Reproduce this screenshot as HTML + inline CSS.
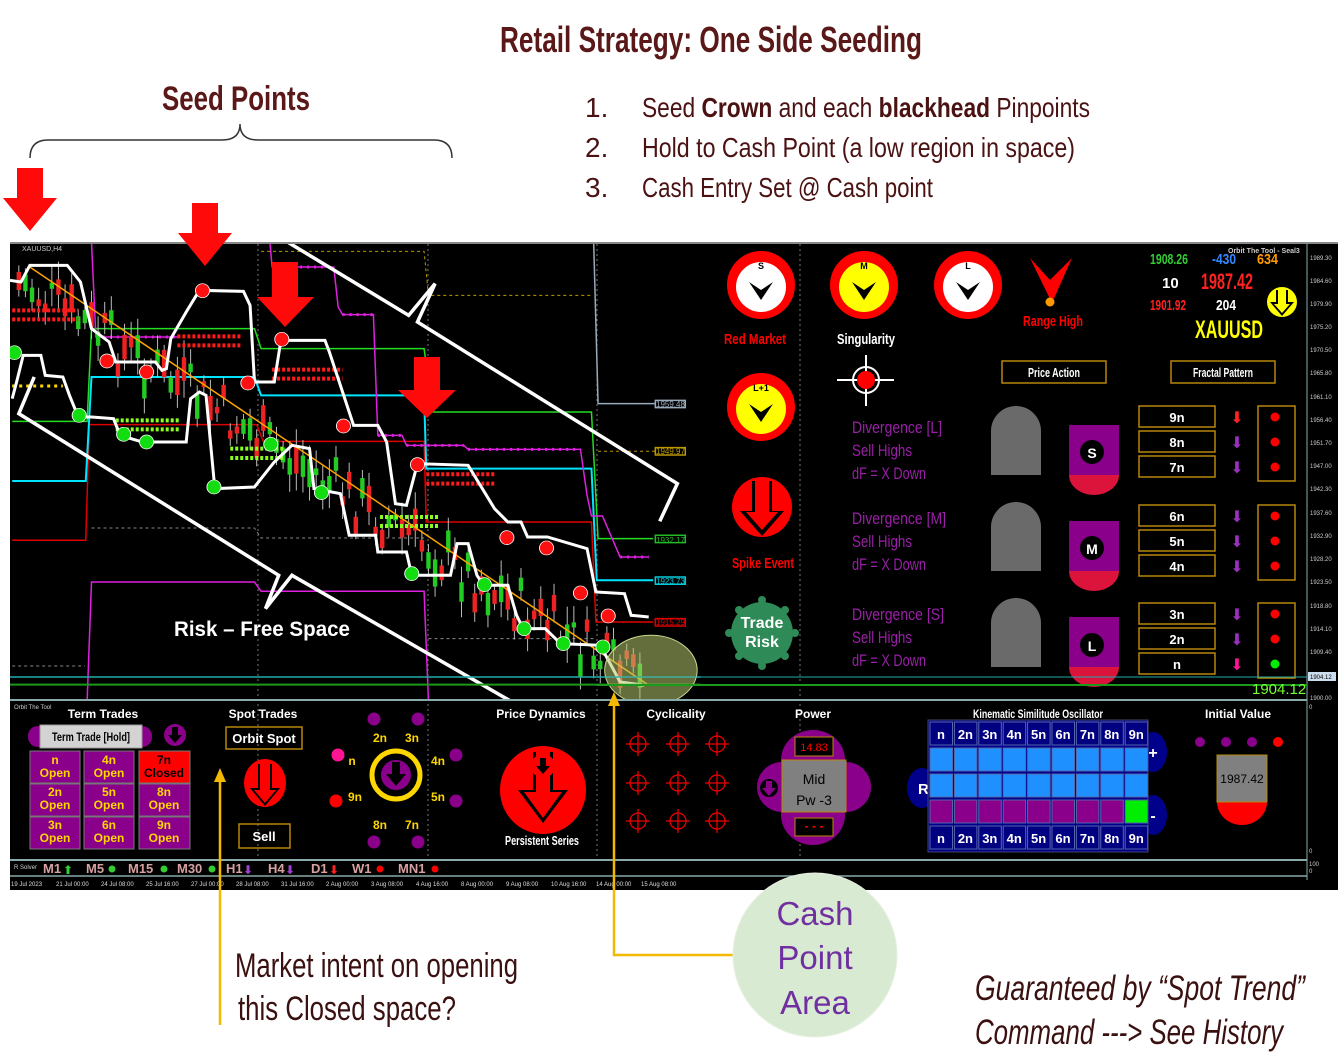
<!DOCTYPE html>
<html><head><meta charset="utf-8"><style>
html,body{margin:0;padding:0;background:#fff;width:1340px;height:1062px;overflow:hidden}
svg{display:block}
text{font-family:"Liberation Sans Narrow","Liberation Sans",sans-serif}
.n{vector-effect:non-scaling-stroke;fill:none}
.ar{font-family:"DejaVu Sans",sans-serif}
</style></head><body>
<svg width="1340" height="1062" viewBox="0 0 1340 1062" xmlns="http://www.w3.org/2000/svg">
<defs><clipPath id="cc"><rect x="10" y="244" width="1297" height="456"/></clipPath></defs>
<!-- Headings -->
<text x="500" y="52" font-size="36" font-weight="bold" fill="#5a1818" textLength="422" lengthAdjust="spacingAndGlyphs">Retail Strategy: One Side Seeding</text>
<text x="162" y="110" font-size="34" font-weight="bold" fill="#5a1818" textLength="148" lengthAdjust="spacingAndGlyphs">Seed Points</text>
<path d="M30 158 Q30 140 48 140 L222 140 Q240 140 240 124 Q240 140 258 140 L434 140 Q452 140 452 158" stroke="#333" stroke-width="1.5" fill="none"/>
<g fill="#4a1212" font-size="28">
<text x="585" y="117">1.</text><text x="585" y="157">2.</text><text x="585" y="197">3.</text>
<text x="642" y="117" textLength="448" lengthAdjust="spacingAndGlyphs">Seed <tspan font-weight="bold">Crown</tspan> and each <tspan font-weight="bold">blackhead</tspan> Pinpoints</text>
<text x="642" y="157" textLength="433" lengthAdjust="spacingAndGlyphs">Hold to Cash Point (a low region in space)</text>
<text x="642" y="197" textLength="291" lengthAdjust="spacingAndGlyphs">Cash Entry Set @ Cash point</text>
</g>
<!-- Chart background -->
<rect x="10" y="242" width="1328" height="648" fill="#000"/>
<line x1="10" y1="243" x2="1338" y2="243" stroke="#888" stroke-width="2"/>
<line x1="1307" y1="243" x2="1307" y2="880" stroke="#8aa" stroke-width="1"/>
<g stroke="#777" stroke-dasharray="2,3" stroke-width="1">
<line x1="258" y1="244" x2="258" y2="860"/><line x1="428" y1="244" x2="428" y2="860"/><line x1="597" y1="244" x2="597" y2="860"/><line x1="800" y1="244" x2="800" y2="860"/>
</g>
<!-- main chart in zoom coords -->
<g clip-path="url(#cc)">
<g id="cg" transform="translate(10,242) scale(0.4405,0.3333)">
<polyline class="n" stroke="#d00" stroke-width="1.5" points="5,895 172,895 180,548 560,548 575,598 940,598 945,840 1320,840 1330,1140 1460,1140"/>
<polyline class="n" stroke="#00e5ff" stroke-width="2" points="5,717 172,717 185,405 555,405 570,460 940,460 945,680 1320,680 1332,1015 1460,1015"/>
<polyline class="n" stroke="#22dd22" stroke-width="1.5" points="5,538 175,538 185,260 555,260 570,320 940,320 960,510 1320,510 1335,890 1460,890"/>
<polyline class="n" stroke="#e020e0" stroke-width="1.5" points="590,0 595,75 735,75 745,195 755,218 825,218 835,580 890,580 900,610 1030,610 1040,622 1295,622 1310,760 1320,822 1345,822 1385,945 1450,945"/>
<polyline class="n" stroke="#e020e0" stroke-width="3" stroke-dasharray="2,5" points="595,75 735,75"/>
<polyline class="n" stroke="#e020e0" stroke-width="3" stroke-dasharray="2,5" points="755,218 825,218"/>
<polyline class="n" stroke="#e020e0" stroke-width="3" stroke-dasharray="2,5" points="835,580 890,580"/>
<polyline class="n" stroke="#e020e0" stroke-width="3" stroke-dasharray="2,5" points="900,610 1030,610"/>
<polyline class="n" stroke="#e020e0" stroke-width="3" stroke-dasharray="2,5" points="1040,622 1295,622"/>
<polyline class="n" stroke="#e020e0" stroke-width="3" stroke-dasharray="2,5" points="1385,945 1450,945"/>
<polyline class="n" stroke="#e020e0" stroke-width="1.5" points="185,0 195,285 380,285"/>
<polyline class="n" stroke="#e020e0" stroke-width="3" stroke-dasharray="2,5" points="195,285 380,285"/>
<polyline class="n" stroke="#e020e0" stroke-width="1.5" points="175,1380 185,1020 555,1020 570,1048 940,1048 950,1380"/>
<polyline class="n" stroke="#9ab" stroke-width="1.5" points="1325,0 1335,485 1465,485"/>
<polyline class="n" stroke="#bb9900" stroke-width="1" stroke-dasharray="3,3" points="570,28 940,28 950,160 1320,160"/>
<polyline class="n" stroke="#bb9900" stroke-width="1" stroke-dasharray="3,3" points="1335,628 1465,628"/>
<polyline class="n" stroke="#888" stroke-width="1" stroke-dasharray="3,3" points="185,858 555,858 570,888 940,888"/>
<polyline class="n" stroke="#888" stroke-width="1" stroke-dasharray="3,3" points="950,1190 1330,1190"/>
<polyline class="n" stroke="#888" stroke-width="1" stroke-dasharray="3,3" points="5,1272 170,1272"/>
<polyline class="n" stroke="#ffd700" stroke-width="3" stroke-dasharray="3,4" points="5,432 120,432"/>
<g id="candles"></g>
<polyline class="n" stroke="#ff1a1a" stroke-width="4" stroke-dasharray="3,2" points="5,205 155,205"/>
<polyline class="n" stroke="#ff1a1a" stroke-width="4" stroke-dasharray="3,2" points="5,232 155,232"/>
<polyline class="n" stroke="#ff1a1a" stroke-width="4" stroke-dasharray="3,2" points="380,283 525,283"/>
<polyline class="n" stroke="#ff1a1a" stroke-width="4" stroke-dasharray="3,2" points="380,310 525,310"/>
<polyline class="n" stroke="#ff1a1a" stroke-width="4" stroke-dasharray="3,2" points="595,383 755,383"/>
<polyline class="n" stroke="#ff1a1a" stroke-width="4" stroke-dasharray="3,2" points="595,410 755,410"/>
<polyline class="n" stroke="#ff1a1a" stroke-width="4" stroke-dasharray="3,2" points="945,697 1100,697"/>
<polyline class="n" stroke="#ff1a1a" stroke-width="4" stroke-dasharray="3,2" points="945,725 1100,725"/>
<polyline class="n" stroke="#88ff22" stroke-width="4" stroke-dasharray="3,2" points="240,535 385,535"/>
<polyline class="n" stroke="#88ff22" stroke-width="4" stroke-dasharray="3,2" points="240,562 385,562"/>
<polyline class="n" stroke="#88ff22" stroke-width="4" stroke-dasharray="3,2" points="500,620 625,620"/>
<polyline class="n" stroke="#88ff22" stroke-width="4" stroke-dasharray="3,2" points="500,648 625,648"/>
<polyline class="n" stroke="#88ff22" stroke-width="4" stroke-dasharray="3,2" points="840,825 975,825"/>
<polyline class="n" stroke="#88ff22" stroke-width="4" stroke-dasharray="3,2" points="840,852 975,852"/>
<polyline class="n" stroke="#ffa500" stroke-width="1.5" points="45,75 1450,1330"/>
<polyline class="n" stroke="#fff" stroke-width="3" points="0,115 25,120 45,70 130,70 160,120 185,260 225,300 240,360 330,360 345,385 355,380 365,290 400,210 430,145 530,148 545,190 555,420 600,420 615,295 715,295 725,330 780,550 835,550 855,600 875,785 900,790 925,665 1040,670 1100,800 1130,840 1160,840 1175,885 1220,885 1310,920 1330,1050 1395,1055 1410,1120 1450,1125"/>
<polyline class="n" stroke="#fff" stroke-width="3" points="5,470 15,420 30,340 70,340 80,400 120,405 135,460 155,525 185,525 235,530 250,580 300,600 400,600 410,470 430,450 445,460 465,740 555,735 600,660 640,610 680,620 690,740 750,755 770,880 830,880 835,930 900,930 912,1000 1000,1000 1015,905 1040,905 1060,1000 1075,1030 1130,1030 1150,1120 1165,1160 1215,1160 1250,1205 1340,1210 1385,1320 1440,1330"/>
<polyline class="n" stroke="#fff" stroke-width="3.5" points="630,0 905,220 965,125 925,240 1515,725 1475,838"/>
<polyline class="n" stroke="#fff" stroke-width="3.5" points="55,405 20,515 610,1000 580,1100 640,1000 1140,1380"/>
<polyline class="n" stroke="#2aa" stroke-width="1.5" points="0,1305 1568,1305"/>
<polyline class="n" stroke="#1a9a1a" stroke-width="2" points="0,1328 1568,1328"/>
<g stroke="#fff" stroke-width="2" vector-effect="non-scaling-stroke">
<g fill="#ff1010"><ellipse cx="220" cy="357" rx="16" ry="21"/><ellipse cx="310" cy="390" rx="16" ry="21"/><ellipse cx="540" cy="423" rx="16" ry="21"/><ellipse cx="757" cy="552" rx="16" ry="21"/><ellipse cx="1128" cy="887" rx="16" ry="21"/><ellipse cx="1218" cy="918" rx="16" ry="21"/><ellipse cx="1295" cy="1053" rx="16" ry="21"/><ellipse cx="1358" cy="1122" rx="16" ry="21"/>
<ellipse cx="437" cy="146" rx="16" ry="21"/><ellipse cx="617" cy="292" rx="16" ry="21"/><ellipse cx="925" cy="668" rx="16" ry="21"/></g>
<g fill="#11dd11"><ellipse cx="10" cy="332" rx="16" ry="21"/><ellipse cx="157" cy="520" rx="16" ry="21"/><ellipse cx="258" cy="577" rx="16" ry="21"/><ellipse cx="310" cy="600" rx="16" ry="21"/><ellipse cx="463" cy="735" rx="16" ry="21"/><ellipse cx="592" cy="607" rx="16" ry="21"/><ellipse cx="707" cy="752" rx="16" ry="21"/><ellipse cx="912" cy="995" rx="16" ry="21"/><ellipse cx="1077" cy="1028" rx="16" ry="21"/><ellipse cx="1167" cy="1160" rx="16" ry="21"/><ellipse cx="1256" cy="1205" rx="16" ry="21"/><ellipse cx="1346" cy="1215" rx="16" ry="21"/></g>
</g>
<ellipse cx="1455" cy="1285" rx="105" ry="105" style="fill:rgba(180,200,110,0.55);stroke:#c8d890;stroke-width:1" vector-effect="non-scaling-stroke"/>
<g fill="#000" stroke-width="1.5" vector-effect="non-scaling-stroke">
<rect x="1465" y="475" width="68" height="22" stroke="#9ab" vector-effect="non-scaling-stroke"/>
<rect x="1465" y="617" width="68" height="22" stroke="#bb9900" vector-effect="non-scaling-stroke"/>
<rect x="1465" y="880" width="68" height="22" stroke="#22bb22" vector-effect="non-scaling-stroke"/>
<rect x="1465" y="1005" width="68" height="22" stroke="#00ccdd" vector-effect="non-scaling-stroke"/>
<rect x="1465" y="1130" width="68" height="22" stroke="#d00" vector-effect="non-scaling-stroke"/>
</g>
</g>
</g>
<g font-size="8" font-family="Liberation Sans,sans-serif">
<text x="656" y="407" fill="#9ab">1959.48</text>
<text x="656" y="454" fill="#bb9900">1949.97</text>
<text x="656" y="543" fill="#22bb22">1932.17</text>
<text x="656" y="584" fill="#00ccdd">1923.73</text>
<text x="656" y="625" fill="#d00">1915.29</text>
<text x="22" y="251" fill="#ccc" font-size="7">XAUUSD,H4</text>
</g>
<!-- Red arrows -->
<g fill="#ff0a0a">
<path d="M17 168h26v30h14l-27 33-27-33h14z"/>
<path d="M192 203h26v30h14l-27 33-27-33h14z"/>
<path d="M272 262h26v35h16l-29 30-28-30h15z"/>
<path d="M414 357h26v33h16l-29 28-29-28h16z"/>
</g>
<text x="174" y="636" font-size="21" font-weight="bold" fill="#fff" font-family="Liberation Sans,sans-serif" textLength="176" lengthAdjust="spacingAndGlyphs">Risk – Free Space</text>
<!-- right panel -->
<g>
<circle cx="761" cy="285" r="34" fill="#f00"/><circle cx="761" cy="287" r="25" fill="#fff"/>
<circle cx="864" cy="285" r="34" fill="#f00"/><circle cx="864" cy="287" r="25" fill="#ff0"/>
<circle cx="968" cy="285" r="34" fill="#f00"/><circle cx="968" cy="287" r="25" fill="#fff"/>
<circle cx="761" cy="407" r="34" fill="#f00"/><circle cx="761" cy="409" r="25" fill="#ff0"/>
<g fill="#000"><path d="M749 282l12 8 12-8-12 18z"/><path d="M852 282l12 8 12-8-12 18z"/><path d="M956 282l12 8 12-8-12 18z"/><path d="M749 404l12 8 12-8-12 18z"/></g>
<g font-size="9" fill="#000" text-anchor="middle" font-weight="bold"><text x="761" y="269">S</text><text x="864" y="269">M</text><text x="968" y="269">L</text><text x="761" y="391">L+1</text></g>
<path d="M1030 258l20 22 22-22-20 45z" fill="#f00"/><circle cx="1050" cy="302" r="4.5" fill="#f90"/>
<g font-size="15" font-weight="bold" text-anchor="middle">
<text x="755" y="344" fill="#f00" textLength="62" lengthAdjust="spacingAndGlyphs">Red Market</text>
<text x="866" y="344" fill="#fff" textLength="58" lengthAdjust="spacingAndGlyphs">Singularity</text>
<text x="1053" y="326" fill="#f00" textLength="60" lengthAdjust="spacingAndGlyphs">Range High</text>
<text x="763" y="568" fill="#f00" textLength="62" lengthAdjust="spacingAndGlyphs">Spike Event</text>
</g>
<g stroke="#fff" stroke-width="2" fill="none"><line x1="866" y1="355" x2="866" y2="406"/><line x1="837" y1="380" x2="894" y2="380"/><circle cx="866" cy="380" r="13"/></g>
<circle cx="866" cy="380" r="9" fill="#f00"/>
<circle cx="762" cy="507" r="30" fill="#f00"/><path d="M752 481h20v30h12l-22 25-22-25h12z" fill="#000"/><path d="M755 480h14v32h9l-16 18-16-18h9z" fill="#f00"/>
<g fill="#2e8b57"><circle cx="762" cy="633" r="31"/><circle cx="762" cy="600" r="4"/><circle cx="762" cy="666" r="4"/><circle cx="729" cy="633" r="4"/><circle cx="795" cy="633" r="4"/><circle cx="739" cy="610" r="4"/><circle cx="785" cy="610" r="4"/><circle cx="739" cy="656" r="4"/><circle cx="785" cy="656" r="4"/></g>
<g font-size="16" font-weight="bold" fill="#fff" text-anchor="middle"><text x="762" y="628">Trade</text><text x="762" y="647">Risk</text></g>
<g font-size="17" fill="#9b1fa8">
<text x="852" y="433" textLength="90" lengthAdjust="spacingAndGlyphs">Divergence [L]</text><text x="852" y="456" textLength="60" lengthAdjust="spacingAndGlyphs">Sell Highs</text><text x="852" y="479" textLength="74" lengthAdjust="spacingAndGlyphs">dF = X Down</text>
<text x="852" y="524" textLength="94" lengthAdjust="spacingAndGlyphs">Divergence [M]</text><text x="852" y="547" textLength="60" lengthAdjust="spacingAndGlyphs">Sell Highs</text><text x="852" y="570" textLength="74" lengthAdjust="spacingAndGlyphs">dF = X Down</text>
<text x="852" y="620" textLength="92" lengthAdjust="spacingAndGlyphs">Divergence [S]</text><text x="852" y="643" textLength="60" lengthAdjust="spacingAndGlyphs">Sell Highs</text><text x="852" y="666" textLength="74" lengthAdjust="spacingAndGlyphs">dF = X Down</text>
</g>
<g fill="#6a6a6a"><path d="M991 475v-44a25 25 0 0 1 50 0v44z"/><path d="M991 571v-44a25 25 0 0 1 50 0v44z"/><path d="M991 667v-44a25 25 0 0 1 50 0v44z"/></g>
<g fill="#dc143c"><path d="M1069 475a25 20 0 0 0 50 0z"/><path d="M1069 571a25 20 0 0 0 50 0z"/><path d="M1069 667a25 20 0 0 0 50 0z"/></g>
<g fill="#8b008b"><rect x="1069" y="425" width="50" height="50"/><rect x="1069" y="521" width="50" height="50"/><rect x="1069" y="617" width="50" height="50"/></g>
<g fill="#000"><circle cx="1092" cy="452" r="12"/><circle cx="1092" cy="548" r="12"/><circle cx="1092" cy="645" r="12"/></g>
<g fill="#fff" font-size="14" font-weight="bold" text-anchor="middle"><text x="1092" y="458">S</text><text x="1092" y="554">M</text><text x="1092" y="651">L</text></g>
<g fill="none" stroke="#b8860b" stroke-width="1.5">
<rect x="1002" y="361" width="104" height="22"/><rect x="1171" y="361" width="104" height="22"/>
<rect x="1139" y="406" width="76" height="21"/><rect x="1139" y="431" width="76" height="21"/><rect x="1139" y="456" width="76" height="21"/>
<rect x="1139" y="505" width="76" height="21"/><rect x="1139" y="530" width="76" height="21"/><rect x="1139" y="555" width="76" height="21"/>
<rect x="1139" y="603" width="76" height="21"/><rect x="1139" y="628" width="76" height="21"/><rect x="1139" y="653" width="76" height="21"/>
<rect x="1258" y="406" width="37" height="75"/><rect x="1258" y="505" width="37" height="75"/><rect x="1258" y="603" width="37" height="75"/>
</g>
<g fill="#fff" font-size="13" font-weight="bold" text-anchor="middle">
<text x="1054" y="377" textLength="52" lengthAdjust="spacingAndGlyphs">Price Action</text><text x="1223" y="377" textLength="60" lengthAdjust="spacingAndGlyphs">Fractal Pattern</text>
<text x="1177" y="422">9n</text><text x="1177" y="447">8n</text><text x="1177" y="472">7n</text>
<text x="1177" y="521">6n</text><text x="1177" y="546">5n</text><text x="1177" y="571">4n</text>
<text x="1177" y="619">3n</text><text x="1177" y="644">2n</text><text x="1177" y="669">n</text>
</g>
<g font-size="16" text-anchor="middle" class="ar">
<text x="1237" y="423" fill="#f22">⬇</text><text x="1237" y="448" fill="#9b30c0">⬇</text><text x="1237" y="473" fill="#9b30c0">⬇</text>
<text x="1237" y="522" fill="#9b30c0">⬇</text><text x="1237" y="547" fill="#9b30c0">⬇</text><text x="1237" y="572" fill="#9b30c0">⬇</text>
<text x="1237" y="620" fill="#9b30c0">⬇</text><text x="1237" y="645" fill="#9b30c0">⬇</text><text x="1237" y="670" fill="#ff1493">⬇</text>
</g>
<g fill="#f00"><circle cx="1275" cy="417" r="4.5"/><circle cx="1275" cy="442" r="4.5"/><circle cx="1275" cy="467" r="4.5"/><circle cx="1275" cy="516" r="4.5"/><circle cx="1275" cy="541" r="4.5"/><circle cx="1275" cy="566" r="4.5"/><circle cx="1275" cy="614" r="4.5"/><circle cx="1275" cy="639" r="4.5"/></g>
<circle cx="1275" cy="664" r="4.5" fill="#0e0"/>
<g font-weight="bold">
<text x="1150" y="264" font-size="15" fill="#3c3" textLength="38" lengthAdjust="spacingAndGlyphs">1908.26</text>
<text x="1212" y="264" font-size="15" fill="#38f" textLength="24" lengthAdjust="spacingAndGlyphs">-430</text>
<text x="1257" y="264" font-size="15" fill="#f90" textLength="21" lengthAdjust="spacingAndGlyphs">634</text>
<text x="1162" y="288" font-size="15" fill="#fff">10</text>
<text x="1201" y="289" font-size="22" fill="#f22" textLength="52" lengthAdjust="spacingAndGlyphs">1987.42</text>
<text x="1150" y="310" font-size="15" fill="#f22" textLength="36" lengthAdjust="spacingAndGlyphs">1901.92</text>
<text x="1216" y="310" font-size="15" fill="#fff" textLength="20" lengthAdjust="spacingAndGlyphs">204</text>
<text x="1195" y="338" font-size="25" fill="#ff0" textLength="68" lengthAdjust="spacingAndGlyphs">XAUUSD</text>
<text x="1228" y="253" font-size="7" fill="#ccc">Orbit The Tool - Seal3</text>
</g>
<circle cx="1282" cy="302" r="15" fill="#ff0"/><path d="M1276 290h12v12h6l-12 14-12-14h6z" fill="#000"/><path d="M1278 290h8v14h4l-8 9-8-9h4z" fill="#ff0"/>
<g font-size="6" fill="#ccc" font-family="Liberation Sans,sans-serif">
<text x="1310" y="260">1989.30</text><text x="1310" y="283">1984.60</text><text x="1310" y="306">1979.90</text><text x="1310" y="329">1975.20</text><text x="1310" y="352">1970.50</text><text x="1310" y="375">1965.80</text><text x="1310" y="399">1961.10</text><text x="1310" y="422">1956.40</text><text x="1310" y="445">1951.70</text><text x="1310" y="468">1947.00</text><text x="1310" y="491">1942.30</text><text x="1310" y="515">1937.60</text><text x="1310" y="538">1932.90</text><text x="1310" y="561">1928.20</text><text x="1310" y="584">1923.50</text><text x="1310" y="608">1918.80</text><text x="1310" y="631">1914.10</text><text x="1310" y="654">1909.40</text><text x="1310" y="700">1900.00</text>
</g>
<rect x="1308" y="672" width="28" height="9" fill="#cde"/><text x="1310" y="679" font-size="6" fill="#000">1904.12</text>
<line x1="597" y1="677" x2="1307" y2="677" stroke="#2aa" stroke-width="1"/>
<line x1="597" y1="685" x2="1307" y2="685" stroke="#1a9a1a" stroke-width="2"/>
<text x="1252" y="694" font-size="15" fill="#7f3" font-family="Liberation Sans,sans-serif">1904.12</text>
</g>
<!-- separators -->
<line x1="10" y1="700" x2="1307" y2="700" stroke="#8aa" stroke-width="2"/>
<line x1="10" y1="860" x2="1307" y2="860" stroke="#8aa" stroke-width="2"/>
<line x1="10" y1="876" x2="1307" y2="876" stroke="#8aa" stroke-width="1.5"/>
<!-- bottom panel -->
<g font-size="12" font-weight="bold" fill="#fff" text-anchor="middle">
<text x="103" y="718">Term Trades</text><text x="263" y="718">Spot Trades</text><text x="541" y="718">Price Dynamics</text><text x="676" y="718">Cyclicality</text><text x="813" y="718">Power</text><text x="1038" y="718" textLength="130" lengthAdjust="spacingAndGlyphs">Kinematic Similitude Oscillator</text><text x="1238" y="718">Initial Value</text>
</g>
<text x="14" y="709" font-size="6" fill="#ccc">Orbit The Tool</text>
<rect x="28" y="726" width="124" height="21" rx="10" fill="#8b008b"/>
<rect x="40" y="725" width="102" height="23" fill="#d3d3d3" stroke="#999"/>
<text x="91" y="741" font-size="12" font-weight="bold" text-anchor="middle" fill="#000" textLength="78" lengthAdjust="spacingAndGlyphs">Term Trade [Hold]</text>
<circle cx="175" cy="735" r="11" fill="#8b008b"/><path d="M172 727h6v8h4l-7 8-7-8h4z" fill="#000"/>
<g stroke="#777" stroke-width="1" fill="#8b008b">
<rect x="30" y="751" width="50" height="32"/><rect x="84" y="751" width="50" height="32"/><rect x="139" y="751" width="51" height="32" fill="#f00"/>
<rect x="30" y="784" width="50" height="32"/><rect x="84" y="784" width="50" height="32"/><rect x="139" y="784" width="51" height="32"/>
<rect x="30" y="817" width="50" height="32"/><rect x="84" y="817" width="50" height="32"/><rect x="139" y="817" width="51" height="32"/>
</g>
<g font-size="12" fill="#ffd700" text-anchor="middle" font-weight="bold">
<text x="55" y="764">n</text><text x="55" y="777">Open</text><text x="109" y="764">4n</text><text x="109" y="777">Open</text><text x="164" y="764" fill="#000">7n</text><text x="164" y="777" fill="#000">Closed</text>
<text x="55" y="796">2n</text><text x="55" y="809">Open</text><text x="109" y="796">5n</text><text x="109" y="809">Open</text><text x="164" y="796">8n</text><text x="164" y="809">Open</text>
<text x="55" y="829">3n</text><text x="55" y="842">Open</text><text x="109" y="829">6n</text><text x="109" y="842">Open</text><text x="164" y="829">9n</text><text x="164" y="842">Open</text>
</g>
<rect x="226" y="727" width="76" height="22" fill="none" stroke="#b8860b" stroke-width="1.5"/>
<text x="264" y="743" font-size="13" font-weight="bold" fill="#fff" text-anchor="middle">Orbit Spot</text>
<ellipse cx="265" cy="783" rx="21" ry="24" fill="#f00"/><path d="M258 764h14v24h8l-15 18-15-18h8z" fill="#000"/><path d="M260 764h10v26h6l-11 13-11-13h6z" fill="#f00"/>
<rect x="239" y="824" width="51" height="24" fill="none" stroke="#b8860b" stroke-width="1.5"/>
<text x="264" y="841" font-size="13" font-weight="bold" fill="#fff" text-anchor="middle">Sell</text>
<circle cx="396" cy="775" r="24" fill="none" stroke="#ffd700" stroke-width="5"/>
<circle cx="396" cy="775" r="15" fill="#8b008b"/><path d="M392 762h8v12h6l-10 12-10-12h6z" fill="#000"/>
<g fill="#8b008b"><circle cx="374" cy="719" r="6.5"/><circle cx="418" cy="719" r="6.5"/><circle cx="456" cy="755" r="6.5"/><circle cx="456" cy="801" r="6.5"/><circle cx="374" cy="842" r="6.5"/><circle cx="418" cy="842" r="6.5"/></g>
<circle cx="338" cy="755" r="6.5" fill="#ff1493"/><circle cx="336" cy="801" r="6.5" fill="#f00"/>
<g font-size="12" font-weight="bold" fill="#ffd700" text-anchor="middle">
<text x="380" y="742">2n</text><text x="412" y="742">3n</text><text x="352" y="765">n</text><text x="438" y="765">4n</text><text x="355" y="801">9n</text><text x="438" y="801">5n</text><text x="380" y="829">8n</text><text x="412" y="829">7n</text>
</g>
<ellipse cx="543" cy="790" rx="43" ry="44" fill="#f00"/><path d="M533 752h20v38h15l-25 33-25-33h15z" fill="#000"/><path d="M536 752h14v40h12l-19 26-19-26h12z" fill="#f00"/>
<circle cx="543" cy="766" r="12" fill="#f00"/><path d="M540 758h6v8h4l-7 8-7-8h4z" fill="#000"/>
<text x="542" y="845" font-size="13" font-weight="bold" fill="#fff" text-anchor="middle" textLength="74" lengthAdjust="spacingAndGlyphs">Persistent Series</text>
<g stroke="#e00" stroke-width="1.3" fill="none">
<g id="ch"><circle cx="638" cy="744" r="8"/><line x1="626" y1="744" x2="650" y2="744"/><line x1="638" y1="732" x2="638" y2="756"/></g>
<use href="#ch" x="40"/><use href="#ch" x="79"/><use href="#ch" y="39"/><use href="#ch" x="40" y="39"/><use href="#ch" x="79" y="39"/><use href="#ch" y="77"/><use href="#ch" x="40" y="77"/><use href="#ch" x="79" y="77"/>
</g>
<!-- power -->
<g fill="#8b008b"><ellipse cx="813" cy="760" rx="32" ry="30"/><ellipse cx="813" cy="815" rx="32" ry="30"/><ellipse cx="782" cy="787" rx="25" ry="25"/><ellipse cx="846" cy="787" rx="25" ry="25"/></g>
<rect x="782" y="760" width="64" height="52" fill="#808080" stroke="#b8860b"/>
<g font-size="14" fill="#000" text-anchor="middle"><text x="814" y="784">Mid</text><text x="814" y="805">Pw -3</text></g>
<rect x="795" y="737" width="38" height="19" fill="#000" stroke="#b8860b"/><text x="814" y="751" font-size="11" fill="#f00" text-anchor="middle">14.83</text>
<rect x="795" y="818" width="38" height="18" fill="#000" stroke="#b8860b"/><text x="814" y="830" font-size="12" fill="#f00" text-anchor="middle" font-weight="bold">- - -</text>
<circle cx="769" cy="788" r="9" fill="#000"/><path d="M766 781h6v7h4l-7 8-7-8h4z" fill="#8b008b"/>
<!-- KSO -->
<ellipse cx="922" cy="788" rx="15" ry="20" fill="#00008b"/><text x="918" y="794" font-size="15" font-weight="bold" fill="#fff">R</text>
<ellipse cx="1153" cy="752" rx="14" ry="20" fill="#00008b"/><text x="1153" y="758" font-size="16" font-weight="bold" fill="#fff" text-anchor="middle">+</text>
<ellipse cx="1153" cy="815" rx="14" ry="20" fill="#00008b"/><text x="1153" y="821" font-size="16" font-weight="bold" fill="#fff" text-anchor="middle">-</text>
<rect x="928" y="720" width="220" height="132" fill="#00008b" stroke="#446"/>
<g id="kso"></g>
<!-- initial value -->
<g fill="#8b008b"><circle cx="1200" cy="742" r="5"/><circle cx="1226" cy="742" r="5"/><circle cx="1252" cy="742" r="5"/></g><circle cx="1278" cy="742" r="5" fill="#f00"/>
<path d="M1217 802a25 23 0 0 0 50 0z" fill="#f00"/>
<rect x="1217" y="755" width="50" height="47" fill="#808080" stroke="#b8860b"/>
<text x="1242" y="783" font-size="12" fill="#000" text-anchor="middle">1987.42</text>
<g font-size="6" fill="#ccc"><text x="1309" y="709">0</text><text x="1309" y="853">0</text><text x="1309" y="866">100</text><text x="1309" y="873">0</text></g>
<!-- timeframe row -->
<text x="14" y="869" font-size="6" fill="#ccc">R Solver</text>
<g font-size="13" font-weight="bold" fill="#d8a0a0" font-family="Liberation Sans,sans-serif">
<text x="43" y="873">M1</text><text x="63" y="874" fill="#3c3" class="ar" font-size="12">⬆</text>
<text x="86" y="873">M5</text><circle cx="112" cy="869" r="3.5" fill="#3c3"/>
<text x="128" y="873">M15</text><circle cx="164" cy="869" r="3.5" fill="#3c3"/>
<text x="177" y="873">M30</text><circle cx="212" cy="869" r="3.5" fill="#3c3"/>
<text x="226" y="873">H1</text><text x="243" y="874" fill="#a040d0" class="ar" font-size="12">⬇</text>
<text x="268" y="873">H4</text><text x="285" y="874" fill="#a040d0" class="ar" font-size="12">⬇</text>
<text x="311" y="873">D1</text><text x="329" y="874" fill="#f22" class="ar" font-size="12">⬇</text>
<text x="352" y="873">W1</text><circle cx="380" cy="869" r="3.5" fill="#f00"/>
<text x="398" y="873">MN1</text><circle cx="435" cy="869" r="3.5" fill="#f00"/>
</g>
<g font-size="6" fill="#ddd" font-family="Liberation Sans,sans-serif">
<text x="11" y="886">19 Jul 2023</text><text x="56" y="886">21 Jul 00:00</text><text x="101" y="886">24 Jul 08:00</text><text x="146" y="886">25 Jul 16:00</text><text x="191" y="886">27 Jul 00:00</text><text x="236" y="886">28 Jul 08:00</text><text x="281" y="886">31 Jul 16:00</text><text x="326" y="886">2 Aug 00:00</text><text x="371" y="886">3 Aug 08:00</text><text x="416" y="886">4 Aug 16:00</text><text x="461" y="886">8 Aug 00:00</text><text x="506" y="886">9 Aug 08:00</text><text x="551" y="886">10 Aug 16:00</text><text x="596" y="886">14 Aug 00:00</text><text x="641" y="886">15 Aug 08:00</text>
</g>
<!-- annotations -->
<g stroke="#f5b800" stroke-width="2.5" fill="none">
<line x1="220" y1="778" x2="220" y2="1025"/>
<polyline points="614,702 614,955 733,955"/>
</g>
<path d="M214 782l6-14 6 14z M608 706l6-14 6 14z" fill="#f5b800"/>
<circle cx="815" cy="955" r="82" fill="#d9ead3" stroke="#e6f0e0"/>
<g font-size="33" fill="#7030a0" text-anchor="middle" font-family="Liberation Sans,sans-serif"><text x="815" y="925">Cash</text><text x="815" y="969">Point</text><text x="815" y="1014">Area</text></g>
<g font-size="34" fill="#3a1010">
<text x="235" y="977" textLength="283" lengthAdjust="spacingAndGlyphs">Market intent on opening</text>
<text x="238" y="1020" textLength="218" lengthAdjust="spacingAndGlyphs">this Closed space?</text>
</g>
<g font-size="35" fill="#3a1010" font-style="italic">
<text x="975" y="1000" textLength="330" lengthAdjust="spacingAndGlyphs">Guaranteed by “Spot Trend”</text>
<text x="975" y="1044" textLength="308" lengthAdjust="spacingAndGlyphs">Command ---&gt; See History</text>
</g>
</svg>
<script>
(function(){
var NS="http://www.w3.org/2000/svg";
var g=document.getElementById("candles");
var s=7;function r(){s=(s*9301+49297)%233280;return s/233280;}
for(var x=20;x<1440;x+=15){
 var base=140+(x-45)*0.86+ (r()-0.5)*160;
 var h=15+r()*70, w=r()*40+15;
 var up=r()>0.5;
 var l=document.createElementNS(NS,"line");
 l.setAttribute("x1",x);l.setAttribute("x2",x);l.setAttribute("y1",base-h/2-w);l.setAttribute("y2",base+h/2+w);
 l.setAttribute("stroke","#bbb");l.setAttribute("vector-effect","non-scaling-stroke");g.appendChild(l);
 var b=document.createElementNS(NS,"rect");
 b.setAttribute("x",x-5);b.setAttribute("width",10);b.setAttribute("y",base-h/2);b.setAttribute("height",h);
 b.setAttribute("fill",up?"#22cc22":"#ee2222");g.appendChild(b);
}
var k=document.getElementById("kso");
var labels=["n","2n","3n","4n","5n","6n","7n","8n","9n"];
var rows=[[722,"#000080","h"],[748,"#1e90ff",""],[774,"#1e90ff",""],[800,"#8b008b",""],[826,"#000080","h"]];
for(var i=0;i<9;i++){for(var j=0;j<5;j++){
 var x=930+i*24.4,y=rows[j][0];
 var c=document.createElementNS(NS,"rect");
 c.setAttribute("x",x);c.setAttribute("y",y);c.setAttribute("width",22.5);c.setAttribute("height",23);
 c.setAttribute("fill",(j==3&&i==8)?"#00ee00":rows[j][1]);c.setAttribute("stroke","#5566aa");k.appendChild(c);
 if(rows[j][2]){var t=document.createElementNS(NS,"text");t.setAttribute("x",x+11);t.setAttribute("y",y+17);
 t.setAttribute("fill","#fff");t.setAttribute("font-size","13");t.setAttribute("font-weight","bold");t.setAttribute("text-anchor","middle");t.textContent=labels[i];k.appendChild(t);}
}}
})();
</script>
</body></html>
